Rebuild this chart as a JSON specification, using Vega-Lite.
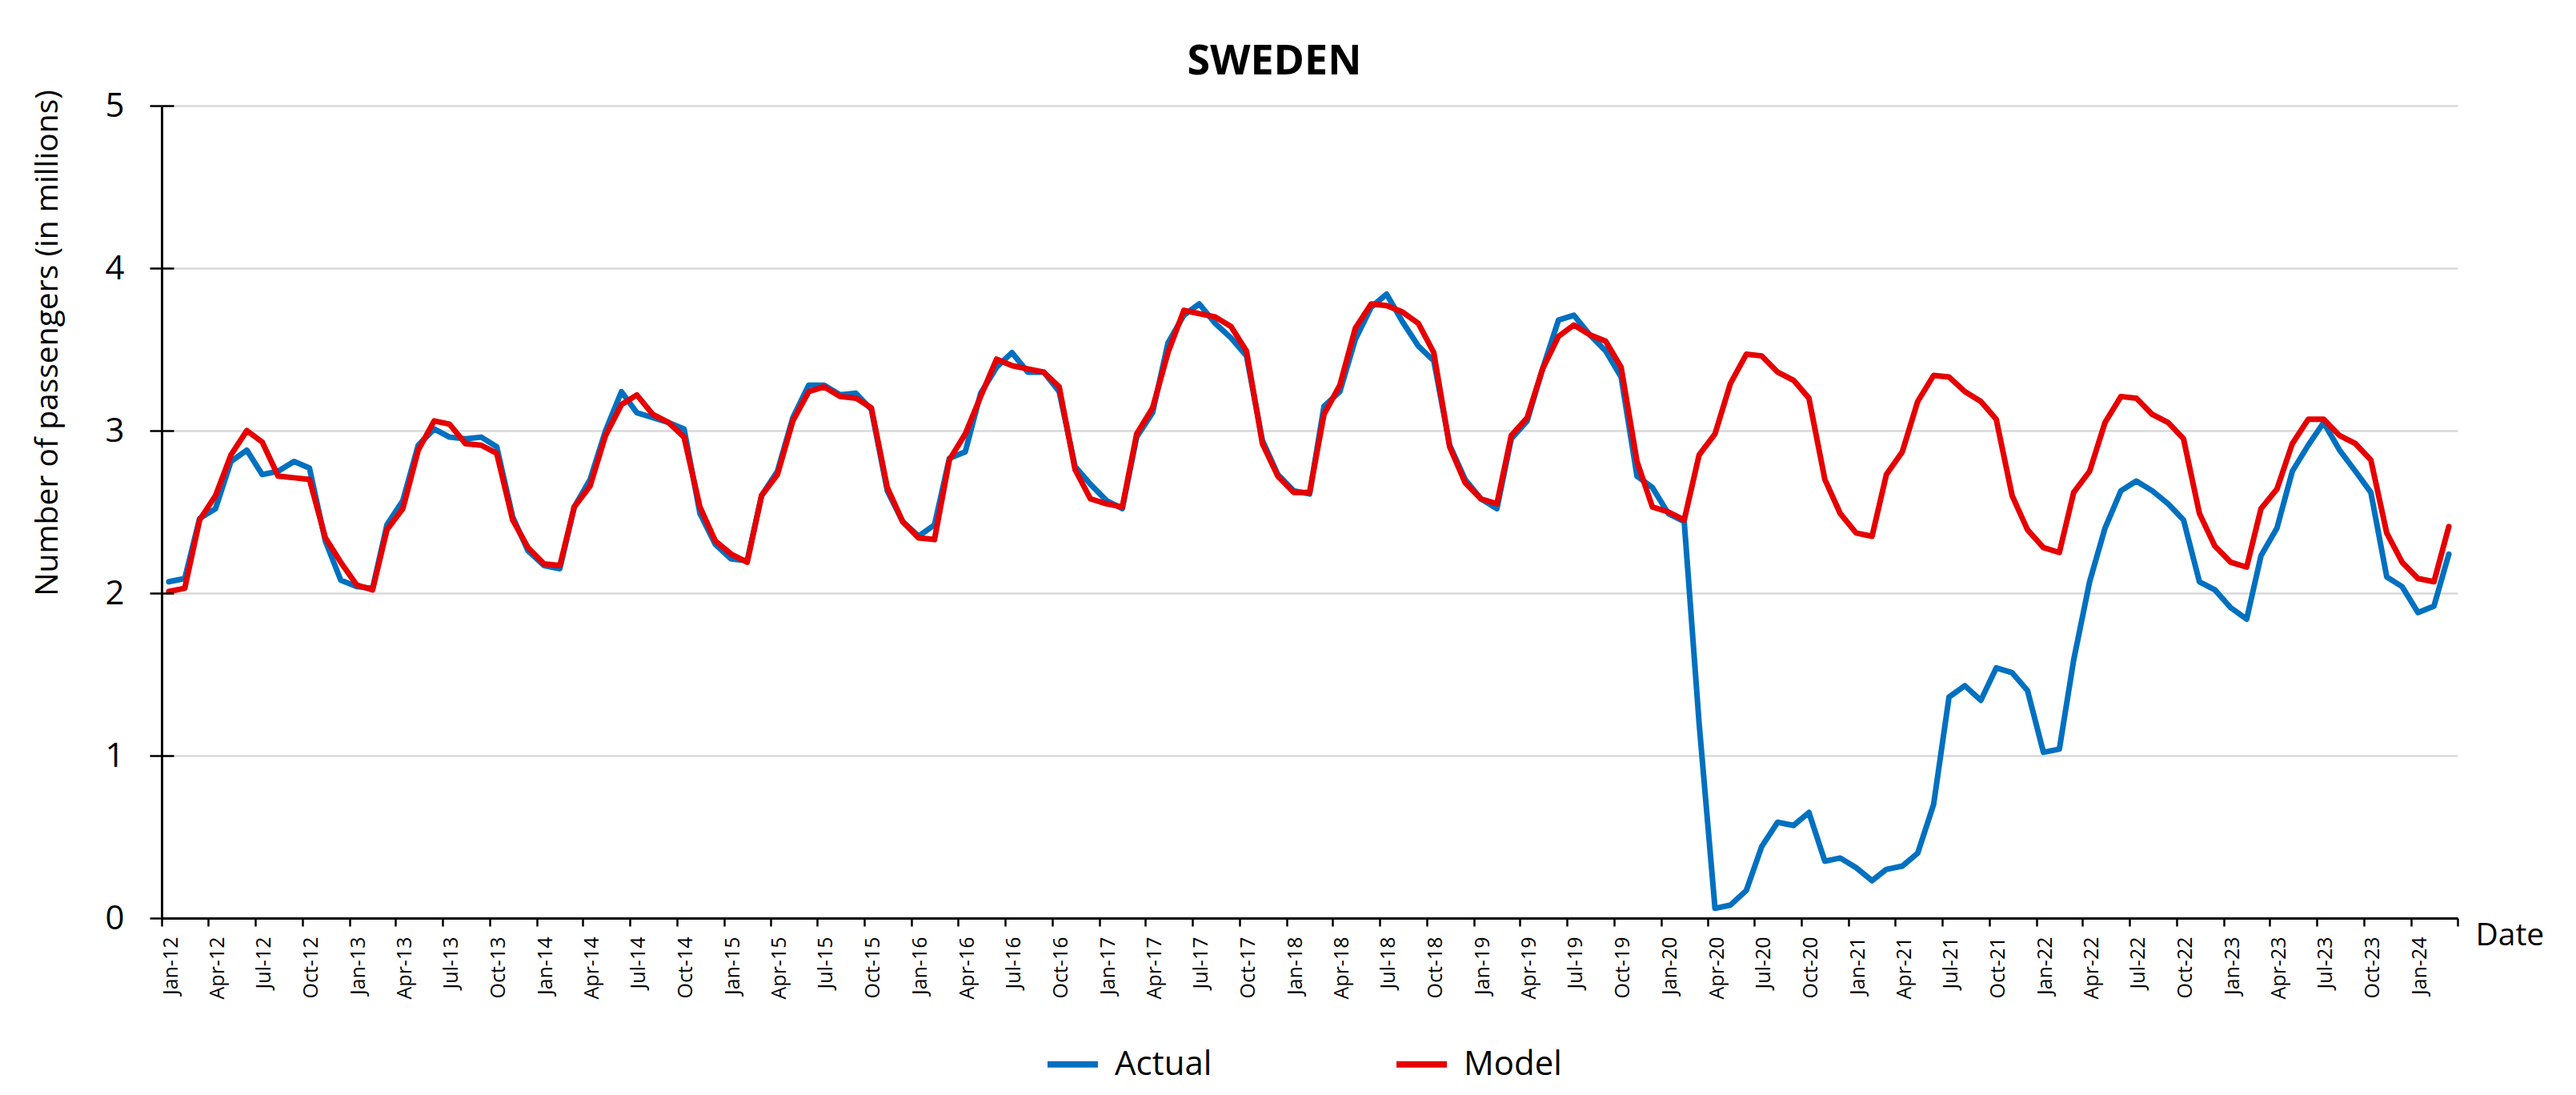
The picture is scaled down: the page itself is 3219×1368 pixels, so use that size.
{
  "$schema": "https://vega.github.io/schema/vega-lite/v6.json",
  "autosize": "none",
  "width": 2869,
  "height": 1015,
  "padding": {"left": 202, "top": 132, "right": 148, "bottom": 221},
  "background": "white",
  "config": {"font": "Open Sans", "view": {"stroke": null}},
  "title": {"text": "SWEDEN", "font": "Open Sans", "fontSize": 52, "fontWeight": "bold", "color": "#000000", "anchor": "middle", "frame": "group", "dx": -44, "dy": 75, "offset": 41, "baseline": "alphabetic"},
  "data": {"values": [
    {"d":"2012-01-15","Actual":2.07,"Model":2.01},{"d":"2012-02-15","Actual":2.09,"Model":2.03},{"d":"2012-03-15","Actual":2.46,"Model":2.45},{"d":"2012-04-15","Actual":2.52,"Model":2.60},{"d":"2012-05-15","Actual":2.81,"Model":2.85},{"d":"2012-06-15","Actual":2.88,"Model":3.00},{"d":"2012-07-15","Actual":2.73,"Model":2.93},{"d":"2012-08-15","Actual":2.75,"Model":2.72},{"d":"2012-09-15","Actual":2.81,"Model":2.71},{"d":"2012-10-15","Actual":2.77,"Model":2.70},{"d":"2012-11-15","Actual":2.32,"Model":2.34},{"d":"2012-12-15","Actual":2.08,"Model":2.19},
    {"d":"2013-01-15","Actual":2.04,"Model":2.05},{"d":"2013-02-15","Actual":2.03,"Model":2.02},{"d":"2013-03-15","Actual":2.42,"Model":2.39},{"d":"2013-04-15","Actual":2.57,"Model":2.52},{"d":"2013-05-15","Actual":2.91,"Model":2.88},{"d":"2013-06-15","Actual":3.01,"Model":3.06},{"d":"2013-07-15","Actual":2.96,"Model":3.04},{"d":"2013-08-15","Actual":2.95,"Model":2.92},{"d":"2013-09-15","Actual":2.96,"Model":2.91},{"d":"2013-10-15","Actual":2.90,"Model":2.86},{"d":"2013-11-15","Actual":2.47,"Model":2.45},{"d":"2013-12-15","Actual":2.26,"Model":2.28},
    {"d":"2014-01-15","Actual":2.17,"Model":2.18},{"d":"2014-02-15","Actual":2.15,"Model":2.17},{"d":"2014-03-15","Actual":2.53,"Model":2.53},{"d":"2014-04-15","Actual":2.70,"Model":2.66},{"d":"2014-05-15","Actual":3.00,"Model":2.97},{"d":"2014-06-15","Actual":3.24,"Model":3.16},{"d":"2014-07-15","Actual":3.11,"Model":3.22},{"d":"2014-08-15","Actual":3.08,"Model":3.10},{"d":"2014-09-15","Actual":3.05,"Model":3.05},{"d":"2014-10-15","Actual":3.01,"Model":2.96},{"d":"2014-11-15","Actual":2.49,"Model":2.53},{"d":"2014-12-15","Actual":2.30,"Model":2.32},
    {"d":"2015-01-15","Actual":2.21,"Model":2.24},{"d":"2015-02-15","Actual":2.20,"Model":2.19},{"d":"2015-03-15","Actual":2.60,"Model":2.60},{"d":"2015-04-15","Actual":2.75,"Model":2.73},{"d":"2015-05-15","Actual":3.08,"Model":3.06},{"d":"2015-06-15","Actual":3.28,"Model":3.24},{"d":"2015-07-15","Actual":3.28,"Model":3.27},{"d":"2015-08-15","Actual":3.22,"Model":3.21},{"d":"2015-09-15","Actual":3.23,"Model":3.20},{"d":"2015-10-15","Actual":3.13,"Model":3.14},{"d":"2015-11-15","Actual":2.63,"Model":2.65},{"d":"2015-12-15","Actual":2.44,"Model":2.44},
    {"d":"2016-01-15","Actual":2.35,"Model":2.34},{"d":"2016-02-15","Actual":2.42,"Model":2.33},{"d":"2016-03-15","Actual":2.83,"Model":2.82},{"d":"2016-04-15","Actual":2.87,"Model":2.98},{"d":"2016-05-15","Actual":3.23,"Model":3.21},{"d":"2016-06-15","Actual":3.39,"Model":3.44},{"d":"2016-07-15","Actual":3.48,"Model":3.40},{"d":"2016-08-15","Actual":3.36,"Model":3.38},{"d":"2016-09-15","Actual":3.36,"Model":3.36},{"d":"2016-10-15","Actual":3.24,"Model":3.27},{"d":"2016-11-15","Actual":2.78,"Model":2.76},{"d":"2016-12-15","Actual":2.67,"Model":2.58},
    {"d":"2017-01-15","Actual":2.57,"Model":2.55},{"d":"2017-02-15","Actual":2.52,"Model":2.53},{"d":"2017-03-15","Actual":2.96,"Model":2.98},{"d":"2017-04-15","Actual":3.11,"Model":3.14},{"d":"2017-05-15","Actual":3.54,"Model":3.48},{"d":"2017-06-15","Actual":3.71,"Model":3.74},{"d":"2017-07-15","Actual":3.78,"Model":3.72},{"d":"2017-08-15","Actual":3.66,"Model":3.70},{"d":"2017-09-15","Actual":3.57,"Model":3.64},{"d":"2017-10-15","Actual":3.46,"Model":3.49},{"d":"2017-11-15","Actual":2.94,"Model":2.92},{"d":"2017-12-15","Actual":2.73,"Model":2.72},
    {"d":"2018-01-15","Actual":2.63,"Model":2.62},{"d":"2018-02-15","Actual":2.61,"Model":2.62},{"d":"2018-03-15","Actual":3.15,"Model":3.10},{"d":"2018-04-15","Actual":3.24,"Model":3.28},{"d":"2018-05-15","Actual":3.56,"Model":3.63},{"d":"2018-06-15","Actual":3.76,"Model":3.78},{"d":"2018-07-15","Actual":3.84,"Model":3.77},{"d":"2018-08-15","Actual":3.67,"Model":3.73},{"d":"2018-09-15","Actual":3.52,"Model":3.66},{"d":"2018-10-15","Actual":3.43,"Model":3.48},{"d":"2018-11-15","Actual":2.91,"Model":2.90},{"d":"2018-12-15","Actual":2.70,"Model":2.68},
    {"d":"2019-01-15","Actual":2.58,"Model":2.58},{"d":"2019-02-15","Actual":2.52,"Model":2.55},{"d":"2019-03-15","Actual":2.95,"Model":2.97},{"d":"2019-04-15","Actual":3.06,"Model":3.08},{"d":"2019-05-15","Actual":3.38,"Model":3.38},{"d":"2019-06-15","Actual":3.68,"Model":3.58},{"d":"2019-07-15","Actual":3.71,"Model":3.65},{"d":"2019-08-15","Actual":3.59,"Model":3.59},{"d":"2019-09-15","Actual":3.49,"Model":3.55},{"d":"2019-10-15","Actual":3.33,"Model":3.39},{"d":"2019-11-15","Actual":2.72,"Model":2.81},{"d":"2019-12-15","Actual":2.65,"Model":2.53},
    {"d":"2020-01-15","Actual":2.49,"Model":2.50},{"d":"2020-02-15","Actual":2.44,"Model":2.45},{"d":"2020-03-15","Actual":1.20,"Model":2.85},{"d":"2020-04-15","Actual":0.06,"Model":2.98},{"d":"2020-05-15","Actual":0.08,"Model":3.29},{"d":"2020-06-15","Actual":0.17,"Model":3.47},{"d":"2020-07-15","Actual":0.44,"Model":3.46},{"d":"2020-08-15","Actual":0.59,"Model":3.36},{"d":"2020-09-15","Actual":0.57,"Model":3.31},{"d":"2020-10-15","Actual":0.65,"Model":3.20},{"d":"2020-11-15","Actual":0.35,"Model":2.70},{"d":"2020-12-15","Actual":0.37,"Model":2.49},
    {"d":"2021-01-15","Actual":0.31,"Model":2.37},{"d":"2021-02-15","Actual":0.23,"Model":2.35},{"d":"2021-03-15","Actual":0.30,"Model":2.73},{"d":"2021-04-15","Actual":0.32,"Model":2.87},{"d":"2021-05-15","Actual":0.40,"Model":3.18},{"d":"2021-06-15","Actual":0.70,"Model":3.34},{"d":"2021-07-15","Actual":1.36,"Model":3.33},{"d":"2021-08-15","Actual":1.43,"Model":3.24},{"d":"2021-09-15","Actual":1.34,"Model":3.18},{"d":"2021-10-15","Actual":1.54,"Model":3.07},{"d":"2021-11-15","Actual":1.51,"Model":2.60},{"d":"2021-12-15","Actual":1.40,"Model":2.39},
    {"d":"2022-01-15","Actual":1.02,"Model":2.28},{"d":"2022-02-15","Actual":1.04,"Model":2.25},{"d":"2022-03-15","Actual":1.59,"Model":2.62},{"d":"2022-04-15","Actual":2.07,"Model":2.75},{"d":"2022-05-15","Actual":2.40,"Model":3.05},{"d":"2022-06-15","Actual":2.63,"Model":3.21},{"d":"2022-07-15","Actual":2.69,"Model":3.20},{"d":"2022-08-15","Actual":2.63,"Model":3.10},{"d":"2022-09-15","Actual":2.55,"Model":3.05},{"d":"2022-10-15","Actual":2.45,"Model":2.95},{"d":"2022-11-15","Actual":2.07,"Model":2.49},{"d":"2022-12-15","Actual":2.02,"Model":2.29},
    {"d":"2023-01-15","Actual":1.91,"Model":2.19},{"d":"2023-02-15","Actual":1.84,"Model":2.16},{"d":"2023-03-15","Actual":2.23,"Model":2.52},{"d":"2023-04-15","Actual":2.40,"Model":2.64},{"d":"2023-05-15","Actual":2.75,"Model":2.92},{"d":"2023-06-15","Actual":2.91,"Model":3.07},{"d":"2023-07-15","Actual":3.05,"Model":3.07},{"d":"2023-08-15","Actual":2.88,"Model":2.97},{"d":"2023-09-15","Actual":2.75,"Model":2.92},{"d":"2023-10-15","Actual":2.62,"Model":2.82},{"d":"2023-11-15","Actual":2.10,"Model":2.37},{"d":"2023-12-15","Actual":2.04,"Model":2.19},
    {"d":"2024-01-15","Actual":1.88,"Model":2.09},{"d":"2024-02-15","Actual":1.92,"Model":2.07},{"d":"2024-03-15","Actual":2.24,"Model":2.41}
  ]},
  "transform": [{"fold": ["Actual", "Model"], "as": ["key", "value"]}],
  "encoding": {
    "x": {
      "field": "d", "type": "temporal",
      "scale": {"type": "utc", "domain": [{"year": 2012, "month": 1, "date": 1, "utc": true}, {"year": 2024, "month": 4, "date": 1, "utc": true}], "nice": false},
      "axis": {
        "title": "Date", "titleFont": "Open Sans", "titleFontSize": 39, "titleFontWeight": "normal", "titleColor": "#000000",
        "titleX": 2891, "titleY": 33, "titleAlign": "left", "titleBaseline": "alphabetic", "titleAngle": 0,
        "tickCount": {"interval": "month", "step": 3},
        "labelExpr": "datum.value > 1711000000000 ? '' : utcFormat(datum.value, '%b-%y')",
        "labelAngle": -90, "labelAlign": "right", "labelBaseline": "middle", "labelOffset": 11, "labelPadding": 13,
        "labelFont": "Open Sans", "labelFontSize": 25, "labelColor": "#000000", "labelOverlap": false, "labelFlush": false, "labelBound": false,
        "tickSize": 10, "tickColor": "#000000", "tickWidth": 2.5, "domainColor": "#000000", "domainWidth": 3, "grid": false
      }
    },
    "color": {
      "field": "key", "type": "nominal",
      "scale": {"domain": ["Actual", "Model"], "range": ["#0070C0", "#E60000"]},
      "legend": {
        "title": null, "orient": "none", "direction": "horizontal", "legendX": 1103, "legendY": 1162, "padding": 0,
        "symbolType": "stroke", "symbolSize": 3969, "symbolStrokeWidth": 8,
        "labelFont": "Open Sans", "labelFontSize": 42, "labelColor": "#000000", "labelOffset": 17, "columnPadding": 214
      }
    }
  },
  "layer": [
    {
      "transform": [{"filter": "datum.key === 'Actual'"}],
      "mark": {"type": "line", "strokeWidth": 7, "strokeJoin": "round", "strokeCap": "round"},
      "encoding": {
        "y": {
          "field": "value", "type": "quantitative",
          "scale": {"domain": [0, 5], "nice": false},
          "axis": {
            "orient": "left",
            "title": "Number of passengers (in millions)", "titleFont": "Open Sans", "titleFontSize": 39, "titleFontWeight": "normal", "titleColor": "#000000",
            "titleX": -143, "titleY": 296, "titleAngle": -90, "titleAlign": "center", "titleBaseline": "middle",
            "values": [0, 1, 2, 3, 4, 5],
            "labelFont": "Open Sans", "labelFontSize": 42, "labelColor": "#000000", "labelPadding": 32,
            "tickSize": 15, "tickColor": "#000000", "tickWidth": 2.5, "domainColor": "#000000", "domainWidth": 3,
            "grid": true, "gridColor": "#D9D9D9", "gridWidth": 2.5
          }
        }
      }
    },
    {
      "transform": [{"filter": "datum.key === 'Model'"}],
      "mark": {"type": "line", "strokeWidth": 7, "strokeJoin": "round", "strokeCap": "round"},
      "encoding": {
        "y": {
          "field": "value", "type": "quantitative",
          "scale": {"domain": [0, 5], "nice": false},
          "axis": {
            "orient": "left", "title": null, "labels": false, "domain": false, "grid": false,
            "values": [0, 1, 2, 3, 4, 5],
            "tickSize": -15, "tickColor": "#000000", "tickWidth": 2.5, "zindex": 1
          }
        }
      }
    }
  ],
  "resolve": {"axis": {"y": "independent"}}
}
